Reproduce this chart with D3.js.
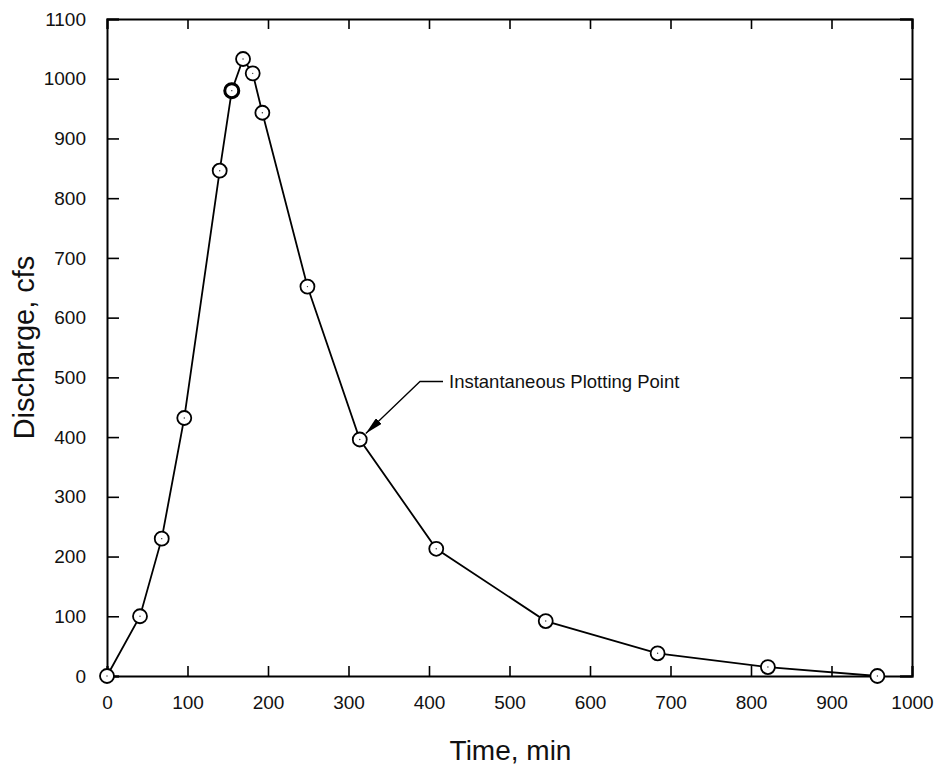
<!DOCTYPE html>
<html>
<head>
<meta charset="utf-8">
<script src="https://cdn.jsdelivr.net/npm/d3@7"></script>
<style>
  html, body { margin: 0; padding: 0; background: #fff; }
  svg { display: block; font-family: "Liberation Sans", Arial, sans-serif; }
</style>
</head>
<body>
<svg id="chart" width="943" height="767"></svg>
<script>
// Hydrograph: discharge vs. time
const timeMin   = [0, 41, 68, 96, 140, 155, 169, 181, 193, 249, 314, 409, 545, 684, 821, 957];
const discharge = [0, 100, 230, 432, 846, 980, 1033, 1009, 943, 652, 396, 213, 92, 38, 15, 0];
const xTicks = [0, 100, 200, 300, 400, 500, 600, 700, 800, 900, 1000];
const yTicks = [0, 100, 200, 300, 400, 500, 600, 700, 800, 900, 1000, 1100];
const annotationText = "Instantaneous Plotting Point";
const annotationIndex = 10; // point the arrow refers to

const svg = d3.select("#chart");
const margin = { left: 107, right: 31, top: 19, bottom: 91 };
const W = 943, H = 767;

const x = d3.scaleLinear().domain([0, 1000]).range([margin.left, W - margin.right]);
const y = d3.scaleLinear().domain([0, 1100]).range([H - margin.bottom, margin.top]);

const ink = "#000";

// Tick marks point inward on all four sides
const axB = svg.append("g").attr("transform", `translate(0,${y(0)})`)
  .call(d3.axisBottom(x).tickValues(xTicks).tickSize(-10).tickPadding(20).tickFormat(d3.format("d")));
const axT = svg.append("g").attr("transform", `translate(0,${y(1100)})`)
  .call(d3.axisTop(x).tickValues(xTicks).tickSize(-10).tickFormat(""));
const axL = svg.append("g").attr("transform", `translate(${x(0)},0)`)
  .call(d3.axisLeft(y).tickValues(yTicks).tickSize(-12).tickPadding(21).tickFormat(d3.format("d")));
const axR = svg.append("g").attr("transform", `translate(${x(1000)},0)`)
  .call(d3.axisRight(y).tickValues(yTicks).tickSize(-12).tickFormat(""));

[axB, axT, axL, axR].forEach(g => {
  g.select(".domain").attr("stroke", ink).attr("stroke-width", 2);
  g.selectAll(".tick line").attr("stroke", ink).attr("stroke-width", 1.6);
  g.selectAll(".tick text").attr("fill", "#111").attr("font-size", 19)
    .attr("font-family", "'Liberation Sans', Arial, sans-serif");
});
axB.selectAll(".tick text").attr("dy", "0.71em");

// Axis titles
svg.append("text")
  .attr("x", (x(0) + x(1000)) / 2 + 1).attr("y", 760)
  .attr("text-anchor", "middle").attr("font-size", 28).attr("fill", "#111")
  .text("Time, min");
svg.append("text")
  .attr("transform", `translate(34,${(y(0) + y(1100)) / 2}) rotate(-90)`)
  .attr("text-anchor", "middle").attr("font-size", 29).attr("fill", "#111")
  .text("Discharge, cfs");

const pts = timeMin.map((t, i) => [t, discharge[i]]);

// Hydrograph line
svg.append("path")
  .datum(pts)
  .attr("fill", "none").attr("stroke", ink).attr("stroke-width", 1.8)
  .attr("d", d3.line().x(d => x(d[0])).y(d => y(d[1])));

// Open circle markers with a center dot
const mk = svg.append("g");
mk.selectAll("circle.m").data(pts).join("circle").attr("class", "m")
  .attr("cx", d => x(d[0])).attr("cy", d => y(d[1])).attr("r", 7)
  .attr("fill", "#fff").attr("stroke", ink).attr("stroke-width", 1.8);
mk.selectAll("circle.c").data(pts).join("circle").attr("class", "c")
  .attr("cx", d => x(d[0])).attr("cy", d => y(d[1])).attr("r", 0.7)
  .attr("fill", "#333");
// the 155-min marker is drawn heavier
mk.append("circle")
  .attr("cx", x(timeMin[5])).attr("cy", y(discharge[5])).attr("r", 7)
  .attr("fill", "none").attr("stroke", ink).attr("stroke-width", 3);

// Annotation with leader line and arrow
const tip = [x(timeMin[annotationIndex]) + 6, y(discharge[annotationIndex]) - 6];
const elbow = [420, 381.5];
svg.append("defs").append("marker")
  .attr("id", "arrow").attr("viewBox", "0 0 10 10")
  .attr("preserveAspectRatio", "none")
  .attr("refX", 10).attr("refY", 5)
  .attr("markerWidth", 18).attr("markerHeight", 8)
  .attr("markerUnits", "userSpaceOnUse").attr("orient", "auto")
  .append("path").attr("d", "M0,0 L10,5 L0,10 Z").attr("fill", ink);
svg.append("path")
  .attr("d", `M${elbow[0] + 23},${elbow[1]} L${elbow[0]},${elbow[1]} L${tip[0]},${tip[1]}`)
  .attr("fill", "none").attr("stroke", ink).attr("stroke-width", 1.3)
  .attr("marker-end", "url(#arrow)");
svg.append("text")
  .attr("x", 449).attr("y", 388)
  .attr("font-size", 18.5).attr("fill", "#111")
  .text(annotationText);
</script>
</body>
</html>
